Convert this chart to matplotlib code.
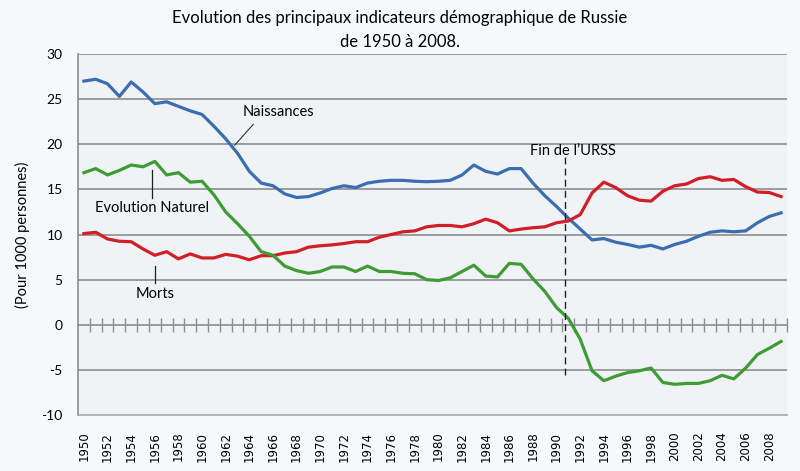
import numpy as np
import matplotlib
matplotlib.use("Agg")
import matplotlib.pyplot as plt
from matplotlib.ticker import NullFormatter

plt.rcParams['font.family'] = ['Lato', 'DejaVu Sans']
plt.rcParams['axes.unicode_minus'] = False

years = list(range(1950, 2010))

naissances = [27.0, 27.2, 26.7, 25.3, 26.9, 25.8, 24.5, 24.7, 24.2, 23.7,
              23.3, 22.0, 20.6, 19.0, 17.0, 15.7, 15.4, 14.5, 14.1, 14.2,
              14.6, 15.1, 15.4, 15.2, 15.7, 15.9, 16.0, 16.0, 15.9, 15.85,
              15.9, 16.0, 16.6, 17.7, 17.0, 16.7, 17.3, 17.3, 15.7, 14.3,
              13.1, 11.8, 10.6, 9.4, 9.55, 9.15, 8.9, 8.6, 8.8, 8.4,
              8.9, 9.25, 9.8, 10.25, 10.4, 10.3, 10.4, 11.3, 12.0, 12.4]

morts = [10.1, 10.25, 9.5, 9.25, 9.2, 8.4, 7.7, 8.1, 7.3, 7.85,
         7.4, 7.4, 7.8, 7.6, 7.2, 7.65, 7.65, 7.95, 8.1, 8.6,
         8.75, 8.85, 9.0, 9.2, 9.2, 9.7, 10.0, 10.3, 10.4, 10.85,
         11.0, 11.0, 10.85, 11.2, 11.7, 11.3, 10.4, 10.6, 10.75, 10.85,
         11.3, 11.5, 12.2, 14.6, 15.8, 15.2, 14.3, 13.8, 13.7, 14.8,
         15.4, 15.6, 16.2, 16.4, 16.0, 16.1, 15.3, 14.7, 14.65, 14.2]

evolution = [16.85, 17.3, 16.6, 17.1, 17.7, 17.5, 18.1, 16.6, 16.85, 15.8,
             15.9, 14.4, 12.5, 11.2, 9.8, 8.1, 7.7, 6.5, 6.0, 5.7,
             5.9, 6.4, 6.4, 5.9, 6.5, 5.9, 5.9, 5.7, 5.65, 5.0,
             4.9, 5.2, 5.9, 6.6, 5.4, 5.3, 6.8, 6.7, 5.1, 3.7,
             1.9, 0.7, -1.6, -5.1, -6.2, -5.7, -5.3, -5.1, -4.8, -6.4,
             -6.6, -6.5, -6.5, -6.2, -5.6, -6.0, -4.8, -3.3, -2.6, -1.85]

yticks = [-10, -5, 0, 5, 10, 15, 20, 25, 30]
xlabels = [str(y) for y in years[::2]]

title = "Evolution des principaux indicateurs démographique de Russie\nde 1950 à 2008."
ylabel = "(Pour 1000 personnes)"
fin_urss = 1990.69

c_blue = '#3b6eb0'
c_red = '#d21f27'
c_green = '#3f9b34'
grid_c = '#8e8e8e'

fig = plt.figure(figsize=(8, 4.71), dpi=100)
fig.patch.set_facecolor('#f7f8fb')
ax = fig.add_axes([78/800, 1-415/471, 709/800, 361/471])
ax.set_facecolor('#eff3f6')

ax.set_xlim(years[0]-0.5, years[-1]+0.5)
ax.set_ylim(yticks[0], yticks[-1])
ax.set_yticks(yticks)
for yv in yticks:
    if yv not in (0, yticks[0]):
        ax.axhline(yv, color=grid_c, lw=1.2, zorder=1)

ax.plot(years, naissances, color=c_blue, lw=2.3, zorder=3, solid_joinstyle='round')
ax.plot(years, morts, color=c_red, lw=2.3, zorder=3, solid_joinstyle='round')
ax.plot(years, evolution, color=c_green, lw=2.3, zorder=3, solid_joinstyle='round')

for s in ['top', 'right']:
    ax.spines[s].set_visible(False)
ax.spines['left'].set_color(grid_c)
ax.spines['left'].set_linewidth(1.2)
ax.spines['bottom'].set_color('#a8a8a8')
ax.spines['bottom'].set_linewidth(1.2)

ax.set_xticks(years[::2])
ax.set_xticklabels(xlabels, rotation=90, fontsize=8.5, family=['DejaVu Sans'])
ax.tick_params(axis='x', length=0, pad=12)
ax.tick_params(axis='y', length=0, pad=11, labelsize=10)

# zero axis with category-boundary ticks
sec = ax.secondary_xaxis((0 - yticks[0]) / (yticks[-1] - yticks[0]))
sec.set_xticks(list(np.array(years) + 0.5))
sec.xaxis.set_major_formatter(NullFormatter())
sec.tick_params(axis='x', direction='inout', length=10, width=1.0, color=grid_c)
sec.spines['bottom'].set_color(grid_c)
sec.spines['bottom'].set_linewidth(1.2)

ax.set_ylabel(ylabel, fontsize=10.5, labelpad=8)

fig.text(0.5, 1 - 30/471, title, ha='center', va='center', fontsize=12, linespacing=1.6)

# annotations
fs = 10.5
ax.text(1966.45, 23.56, "Naissances", ha='center', va='center', fontsize=fs)
ax.plot([1964.33, 1962.76], [22.2, 19.9], color='#333333', lw=0.8, zorder=4)
ax.text(1955.73, 12.9, "Evolution Naturel", ha='center', va='center', fontsize=fs)
ax.plot([1955.77, 1955.77], [17.1, 14.0], color='#222222', lw=0.9, zorder=4)
ax.text(1956.03, 3.44, "Morts", ha='center', va='center', fontsize=fs)
ax.plot([1956.03, 1956.03], [6.56, 4.67], color='#222222', lw=0.9, zorder=4)
ax.text(1991.36, 19.2, "Fin de l\u2019URSS", ha='center', va='center', fontsize=fs)
ax.plot([fin_urss, fin_urss], [18.55, -5.55], color='#222222', lw=1.0,
        ls=(0, (5, 3)), zorder=4)

fig.savefig('out.png', dpi=100, facecolor=fig.get_facecolor())
